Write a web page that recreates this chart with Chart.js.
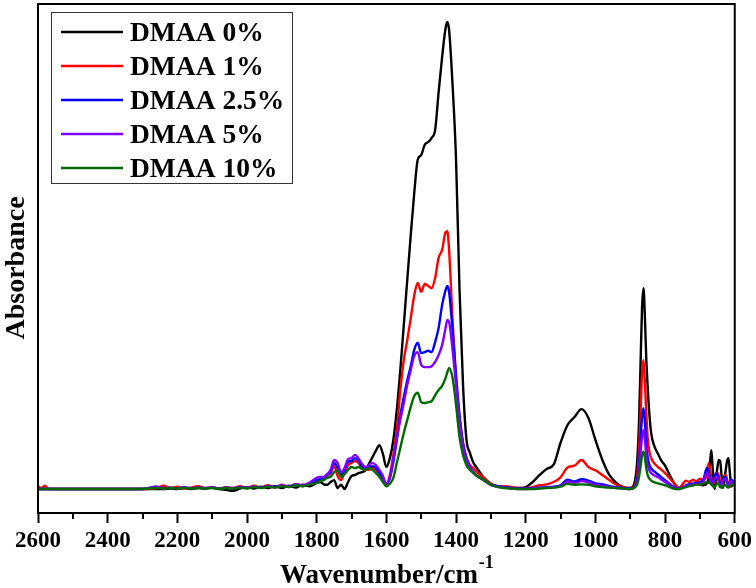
<!DOCTYPE html>
<html>
<head>
<meta charset="utf-8">
<script src="https://cdn.jsdelivr.net/npm/chart.js@4/dist/chart.umd.min.js"></script>
<style>
  html, body { margin: 0; padding: 0; background: #ffffff; }
  #wrap { width: 756px; height: 588px; }
</style>
</head>
<body>
<div id="wrap"><canvas id="c" width="756" height="588"></canvas></div>
<script>
// Wavenumber grid (cm-1)
const wavenumbers = [
  2600, 2590, 2580, 2570, 2500, 2400, 2300,
  2260, 2240, 2220, 2200, 2180, 2160, 2140, 2120, 2100, 2080, 2060, 2040, 2020, 2000, 1980, 1960, 1940, 1920, 1900, 1880, 1860, 1840, 1820,
  1800, 1790, 1780, 1770, 1760, 1750, 1740, 1730, 1720, 1710, 1700, 1690, 1680, 1670, 1660, 1650, 1640, 1630, 1620, 1610, 1600,
  1590, 1580, 1570, 1560, 1550, 1540, 1530, 1520, 1510, 1500, 1490, 1480, 1470, 1460, 1450, 1440, 1430, 1425, 1420, 1410, 1400, 1390, 1380, 1370, 1360, 1350, 1340, 1320, 1300,
  1280, 1260, 1240, 1220, 1200, 1180, 1160, 1140, 1120, 1100, 1080, 1060, 1040, 1020, 1000, 980, 960, 940, 920, 900,
  890, 880, 875, 870, 866, 862, 858, 854, 850, 845, 840, 830, 820, 810, 800, 790, 780, 770, 760,
  750, 740, 730, 720, 710, 700, 690, 680, 675, 670, 667, 663, 658, 654, 650, 646, 642, 638, 634, 630, 626, 622, 618, 614, 610, 606, 603, 600
];

const dmaa0 = [
  0, 0, 0, 0, 0, 0, 0,
  0, 0, 0.001, 0, 0.002, 0, 0.002, 0.001, 0.003, 0, -0.002, -0.004, 0.001, 0.004, 0.001, 0.005, 0.002, 0.006, 0.002, 0.007, 0.003, 0.009, 0.006,
  0.013, 0.015, 0.01, 0.009, 0.015, 0.019, 0.002, 0.009, 0.0, 0.015, 0.028, 0.03, 0.034, 0.036, 0.04, 0.054, 0.068, 0.082, 0.094, 0.075, 0.047,
  0.066, 0.105, 0.17, 0.255, 0.351, 0.448, 0.544, 0.634, 0.705, 0.715, 0.737, 0.743, 0.752, 0.769, 0.85, 0.925, 0.987, 1.0, 0.983, 0.865, 0.705, 0.426, 0.223, 0.105, 0.077, 0.056, 0.045, 0.024, 0.011,
  0.006, 0.004, 0.002, 0.002, 0.004, 0.015, 0.03, 0.043, 0.052, 0.099, 0.137, 0.154, 0.171, 0.152, 0.105, 0.062, 0.03, 0.013, 0.004, 0.002,
  0.008, 0.06, 0.14, 0.28, 0.39, 0.43, 0.37, 0.28, 0.22, 0.16, 0.12, 0.09, 0.075, 0.06, 0.05, 0.035, 0.02, 0.008, 0.002,
  0.004, 0.007, 0.01, 0.008, 0.011, 0.01, 0.008, 0.012, 0.025, 0.065, 0.083, 0.04, 0.0, 0.02, 0.045, 0.062, 0.06, 0.03, 0.002, 0.02, 0.04, 0.06, 0.066, 0.035, 0.005, 0.01, 0.015, 0.01
];

const dmaa1 = [
  0.006, 0.002, 0.007, 0, 0, 0, 0,
  0.002, 0.007, 0.002, 0.005, 0.001, 0.003, 0.006, 0.002, 0.004, 0.001, 0.004, 0.002, 0.006, 0.002, 0.007, 0.003, 0.008, 0.003, 0.009, 0.004, 0.011, 0.006, 0.012,
  0.017, 0.019, 0.021, 0.028, 0.034, 0.049, 0.028, 0.019, 0.036, 0.051, 0.056, 0.06, 0.056, 0.045, 0.041, 0.041, 0.045, 0.041, 0.032, 0.021, 0.011,
  0.03, 0.073, 0.126, 0.212, 0.276, 0.319, 0.366, 0.415, 0.441, 0.422, 0.439, 0.435, 0.43, 0.452, 0.495, 0.512, 0.55, 0.552, 0.512, 0.362, 0.233, 0.152, 0.098, 0.066, 0.051, 0.045, 0.036, 0.024, 0.011,
  0.005, 0.006, 0.004, 0.002, 0.002, 0.004, 0.008, 0.01, 0.015, 0.025, 0.046, 0.05, 0.062, 0.047, 0.04, 0.03, 0.019, 0.009, 0.004, 0.002,
  0.004, 0.03, 0.08, 0.17, 0.25, 0.276, 0.23, 0.165, 0.11, 0.08, 0.066, 0.054, 0.047, 0.041, 0.034, 0.026, 0.017, 0.009, 0.002,
  0.01, 0.018, 0.015, 0.02, 0.016, 0.022, 0.02, 0.03, 0.055, 0.04, 0.02, 0.01, 0.02, 0.03, 0.035, 0.03, 0.015, 0.01, 0.02, 0.028, 0.03, 0.02, 0.01, 0.005, 0.01, 0.015, 0.01, 0.008
];

const dmaa25 = [
  0, 0, 0, 0, 0, 0, 0,
  0.005, 0.001, 0.003, 0.001, 0.004, 0.001, 0.003, 0.002, 0.003, 0.001, 0.003, 0.001, 0.004, 0.002, 0.005, 0.003, 0.006, 0.004, 0.007, 0.005, 0.009, 0.007, 0.012,
  0.019, 0.021, 0.024, 0.03, 0.036, 0.056, 0.045, 0.03, 0.041, 0.058, 0.06, 0.066, 0.06, 0.049, 0.045, 0.047, 0.049, 0.045, 0.034, 0.024, 0.011,
  0.024, 0.058, 0.105, 0.158, 0.197, 0.233, 0.263, 0.298, 0.313, 0.291, 0.293, 0.296, 0.293, 0.315, 0.345, 0.394, 0.426, 0.435, 0.422, 0.34, 0.244, 0.158, 0.098, 0.066, 0.047, 0.036, 0.028, 0.019, 0.009,
  0.006, 0.004, 0.002, 0.001, 0.001, 0.002, 0.003, 0.004, 0.005, 0.008, 0.02, 0.016, 0.021, 0.018, 0.012, 0.01, 0.006, 0.004, 0.002, 0.001,
  0.003, 0.02, 0.05, 0.11, 0.155, 0.173, 0.145, 0.1, 0.068, 0.052, 0.044, 0.037, 0.031, 0.025, 0.019, 0.013, 0.007, 0.003, 0.001,
  0.004, 0.008, 0.01, 0.012, 0.013, 0.015, 0.02, 0.045, 0.035, 0.02, 0.012, 0.015, 0.025, 0.034, 0.03, 0.02, 0.01, 0.012, 0.02, 0.026, 0.025, 0.015, 0.01, 0.015, 0.02, 0.018, 0.015, 0.012
];

const dmaa5 = [
  0, 0, 0, 0, 0, 0, 0,
  0.005, 0.002, 0.003, 0.001, 0.003, 0.002, 0.003, 0.001, 0.004, 0.001, 0.003, 0.002, 0.004, 0.002, 0.005, 0.003, 0.006, 0.004, 0.008, 0.005, 0.01, 0.008, 0.014,
  0.024, 0.026, 0.026, 0.032, 0.041, 0.062, 0.056, 0.036, 0.045, 0.064, 0.066, 0.073, 0.066, 0.054, 0.047, 0.051, 0.056, 0.051, 0.041, 0.028, 0.01,
  0.024, 0.066, 0.109, 0.148, 0.184, 0.223, 0.255, 0.285, 0.293, 0.266, 0.261, 0.261, 0.263, 0.272, 0.287, 0.308, 0.345, 0.362, 0.358, 0.298, 0.223, 0.148, 0.094, 0.062, 0.047, 0.036, 0.028, 0.019, 0.009,
  0.005, 0.003, 0.001, 0.0, 0.0, 0.001, 0.002, 0.003, 0.004, 0.006, 0.016, 0.013, 0.017, 0.014, 0.009, 0.007, 0.004, 0.002, 0.001, 0.0,
  0.002, 0.015, 0.04, 0.08, 0.113, 0.126, 0.105, 0.072, 0.052, 0.04, 0.034, 0.029, 0.025, 0.02, 0.015, 0.01, 0.005, 0.002, 0.0,
  0.003, 0.006, 0.008, 0.01, 0.011, 0.012, 0.016, 0.035, 0.028, 0.016, 0.01, 0.012, 0.02, 0.027, 0.024, 0.016, 0.008, 0.01, 0.016, 0.021, 0.02, 0.012, 0.008, 0.012, 0.016, 0.014, 0.012, 0.01
];

const dmaa10 = [
  0, 0, 0, 0, 0, 0, 0,
  0.002, 0.001, 0.002, 0.001, 0.002, 0.001, 0.002, 0.001, 0.002, 0.0, 0.002, 0.001, 0.003, 0.001, 0.004, 0.002, 0.005, 0.003, 0.006, 0.004, 0.008, 0.006, 0.01,
  0.013, 0.017, 0.019, 0.024, 0.026, 0.036, 0.039, 0.026, 0.032, 0.041, 0.047, 0.045, 0.047, 0.043, 0.041, 0.045, 0.041, 0.034, 0.026, 0.015, 0.006,
  0.011, 0.024, 0.056, 0.088, 0.12, 0.148, 0.176, 0.199, 0.206, 0.186, 0.184, 0.186, 0.188, 0.201, 0.212, 0.221, 0.238, 0.25, 0.259, 0.238, 0.18, 0.111, 0.073, 0.051, 0.041, 0.034, 0.028, 0.019, 0.009,
  0.004, 0.002, 0.001, 0.0, 0.0, 0.0, 0.001, 0.002, 0.003, 0.005, 0.011, 0.009, 0.01, 0.009, 0.006, 0.004, 0.003, 0.002, 0.001, 0.0,
  0.002, 0.01, 0.025, 0.05, 0.072, 0.08, 0.068, 0.045, 0.03, 0.022, 0.018, 0.014, 0.012, 0.01, 0.008, 0.005, 0.002, 0.0, 0.0,
  0.002, 0.004, 0.006, 0.008, 0.009, 0.01, 0.012, 0.015, 0.013, 0.012, 0.01, 0.006, 0.004, 0.008, 0.012, 0.01, 0.004, 0.003, 0.006, 0.01, 0.008, 0.004, 0.003, 0.006, 0.01, 0.009, 0.008, 0.008
];

const seriesLabels = ['DMAA 0%', 'DMAA 1%', 'DMAA 2.5%', 'DMAA 5%', 'DMAA 10%'];
const seriesValues = [dmaa0, dmaa1, dmaa25, dmaa5, dmaa10];
const seriesColors = ['#000000', '#ff0000', '#0000ff', '#8000ff', '#006a00'];
const xTickValues = [2600, 2400, 2200, 2000, 1800, 1600, 1400, 1200, 1000, 800, 600];
const xMinorTicks = [2500, 2300, 2100, 1900, 1700, 1500, 1300, 1100, 900, 700];
const xTitle = 'Wavenumber/cm';
const xTitleSup = '-1';
const yTitle = 'Absorbance';

const SERIF = "'Liberation Serif', 'Times New Roman', serif";

const datasets = seriesValues.map((vals, i) => ({
  label: seriesLabels[i],
  data: vals.map((v, j) => ({ x: wavenumbers[j], y: v })),
  borderColor: seriesColors[i],
  backgroundColor: seriesColors[i],
  borderWidth: 2.4,
  pointRadius: 0,
  cubicInterpolationMode: 'monotone',
  fill: false,
  order: seriesValues.length - i
}));

const decorPlugin = {
  id: 'decor',
  afterDraw(chart) {
    const ctx = chart.ctx;
    const area = chart.chartArea;
    const xs = chart.scales.x;
    ctx.save();
    // frame
    ctx.strokeStyle = '#000';
    ctx.lineWidth = 2;
    ctx.strokeRect(area.left, area.top, area.right - area.left, area.bottom - area.top);
    // minor ticks
    ctx.lineWidth = 2;
    xMinorTicks.forEach(v => {
      const px = Math.round(xs.getPixelForValue(v));
      ctx.beginPath();
      ctx.moveTo(px, area.bottom);
      ctx.lineTo(px, area.bottom + 6);
      ctx.stroke();
    });
    // x title with superscript
    ctx.fillStyle = '#000';
    ctx.textBaseline = 'alphabetic';
    ctx.textAlign = 'left';
    const mainFont = 'bold 27px ' + SERIF;
    const supFont = 'bold 18px ' + SERIF;
    ctx.font = mainFont;
    const w1 = ctx.measureText(xTitle).width;
    ctx.font = supFont;
    const w2 = ctx.measureText(xTitleSup).width;
    const cx = (area.left + area.right) / 2;
    const startX = cx - (w1 + w2) / 2;
    ctx.font = mainFont;
    ctx.fillText(xTitle, startX, 583);
    ctx.font = supFont;
    ctx.fillText(xTitleSup, startX + w1 + 1, 568);
    // y title
    ctx.save();
    ctx.translate(14, 268);
    ctx.rotate(-Math.PI / 2);
    ctx.font = 'bold 28px ' + SERIF;
    ctx.textAlign = 'center';
    ctx.fillText(yTitle, 0, 9.5);
    ctx.restore();
    // legend
    const lx = 51, ly = 12, lw = 241, lh = 171;
    ctx.fillStyle = '#fff';
    ctx.fillRect(lx, ly, lw, lh);
    ctx.strokeStyle = '#333';
    ctx.lineWidth = 1;
    ctx.strokeRect(lx + 0.5, ly + 0.5, lw, lh);
    ctx.font = 'bold 27.5px ' + SERIF;
    ctx.textAlign = 'left';
    seriesLabels.forEach((lab, i) => {
      const cy = 32 + i * 34;
      ctx.strokeStyle = seriesColors[i];
      ctx.lineWidth = 2.6;
      ctx.beginPath();
      ctx.moveTo(61, cy);
      ctx.lineTo(123, cy);
      ctx.stroke();
      ctx.fillStyle = '#000';
      ctx.fillText(lab, 130, cy + 9);
    });
    ctx.restore();
  }
};

new Chart(document.getElementById('c'), {
  type: 'line',
  data: { datasets },
  options: {
    responsive: false,
    animation: false,
    layout: { padding: { top: 4, right: 20, left: 0, bottom: 0 } },
    plugins: { legend: { display: false }, tooltip: { enabled: false } },
    scales: {
      x: {
        type: 'linear',
        reverse: true,
        min: 600,
        max: 2600,
        afterBuildTicks: (axis) => { axis.ticks = xTickValues.map(v => ({ value: v })); },
        afterFit: (axis) => { axis.height = 75; },
        ticks: {
          color: '#000',
          padding: 4,
          maxRotation: 0,
          autoSkip: false,
          callback: (v) => String(v),
          font: { family: SERIF, size: 23, weight: 'bold' }
        },
        grid: {
          display: true,
          drawOnChartArea: false,
          drawTicks: true,
          tickLength: 10,
          tickWidth: 2,
          tickColor: '#000'
        },
        border: { display: true, color: '#000', width: 2 },
        title: { display: false }
      },
      y: {
        type: 'linear',
        min: -0.0514,
        max: 1.0385,
        afterFit: (axis) => { axis.width = 38; },
        ticks: { display: false },
        grid: { display: false },
        border: { display: true, color: '#000', width: 2 },
        title: { display: false }
      }
    }
  },
  plugins: [decorPlugin]
});
</script>
</body>
</html>
